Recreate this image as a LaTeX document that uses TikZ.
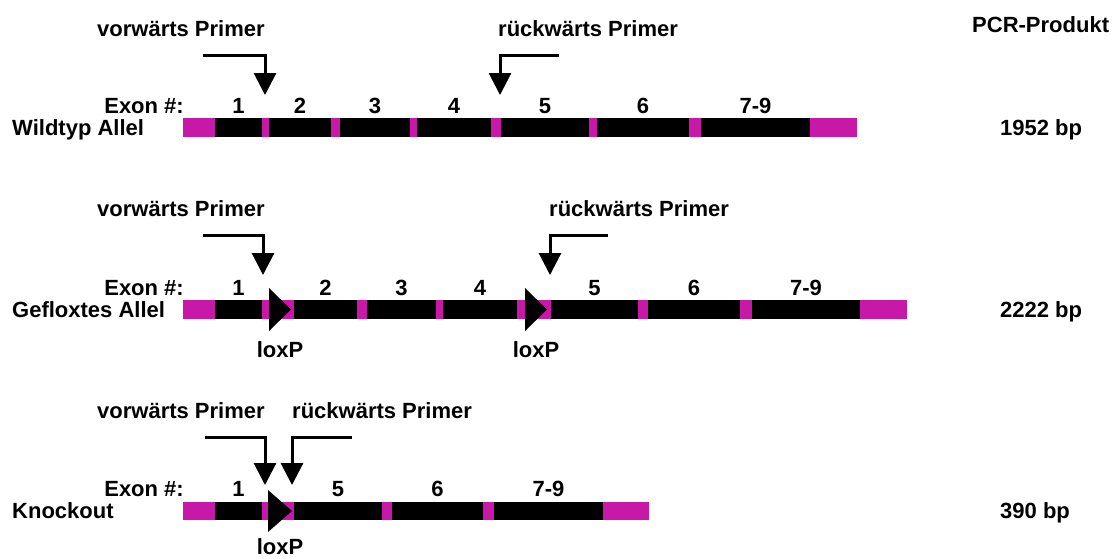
\documentclass[tikz,border=0pt]{standalone}
\usepackage{fontspec}
\setmainfont{Liberation Sans}
\usepackage{tikz}
\usetikzlibrary{arrows.meta, positioning}
\definecolor{exonpink}{RGB}{200,24,168}

\begin{document}
\begin{tikzpicture}[x=1pt, y=-1pt,
    lbl/.style={inner sep=0pt, font=\bfseries\fontsize{22}{26}\selectfont},
    primer/.style={line width=3pt, -{Triangle[width=22pt,length=22pt]}},
    intron/.style={fill=exonpink},
    exon/.style={fill=black}]
        \useasboundingbox (0,0) rectangle (1118,558);
        \node[lbl, anchor=base west] (pcr) at (972,32) {PCR-Produkt};
        % Wildtyp
        \fill[intron] (183,118) rectangle (857,137);
        \foreach \a/\b/\t [count=\i] in {215/262/1,269/331/2,340/410/3,417/491/4,501/589/5,597/689/6,701/810/7-9}{
            \fill[exon] (\a,118) rectangle (\b,137);
            \node[lbl, anchor=base] (wex\i) at ({(\a+\b)/2},113) {\t};
        }
        \node[lbl, anchor=base west] (wt) at (12,135.5) {Wildtyp Allel};
        \node[lbl, anchor=base east] (wtnr) at (184,113) {Exon \#:};
        \node[lbl, anchor=base west] (wtbp) at (1000,135.5) {1952 bp};
        \node[lbl, anchor=base west] (wtfw) at (97,36) {vorwärts Primer};
        \node[lbl, anchor=base west] (wtrv) at (498,36) {rückwärts Primer};
        \coordinate (fw1a) at (203,55);
        \coordinate (fw1b) at (265,95);
        \coordinate (rv1a) at (559,55);
        \coordinate (rv1b) at (500,95);
        \draw[primer] (fw1a) -| (fw1b);
        \draw[primer] (rv1a) -| (rv1b);
        % Gefloxt
        \fill[intron] (183,300) rectangle (907,319);
        \foreach \a/\b/\t [count=\i] in {215/262/1,294/357/2,367/436/3,443/517/4,551/638/5,648/740/6,752/860/7-9}{
            \fill[exon] (\a,300) rectangle (\b,319);
            \node[lbl, anchor=base] (flex\i) at ({(\a+\b)/2},295) {\t};
        }
        \foreach \x [count=\i] in {269,525}{
            \fill[exon] (\x,288) -- (\x+22,309.5) -- (\x,331) -- cycle;
            \node[lbl, anchor=base] (lox\i) at (\x+11,357) {loxP};
        }
        \node[lbl, anchor=base west] (fl) at (12,317.5) {Gefloxtes Allel};
        \node[lbl, anchor=base east] (flnr) at (184,295) {Exon \#:};
        \node[lbl, anchor=base west] (flbp) at (1000,317.5) {2222 bp};
        \node[lbl, anchor=base west] (flfw) at (97,216) {vorwärts Primer};
        \node[lbl, anchor=base west] (flrv) at (549,216) {rückwärts Primer};
        \coordinate (fw2a) at (203,235);
        \coordinate (fw2b) at (263,275);
        \coordinate (rv2a) at (608,235);
        \coordinate (rv2b) at (550,275);
        \draw[primer] (fw2a) -| (fw2b);
        \draw[primer] (rv2a) -| (rv2b);
        % Knockout
        \fill[intron] (183,502) rectangle (649,520);
        \foreach \a/\b/\t [count=\i] in {215/262/1,294/382/5,392/483/6,494/603/7-9}{
            \fill[exon] (\a,502) rectangle (\b,520);
            \node[lbl, anchor=base] (koex\i) at ({(\a+\b)/2},496.5) {\t};
        }
        \fill[exon] (268,490) -- (292,511) -- (268,532) -- cycle;
        \node[lbl, anchor=base] (lox3) at (280,554) {loxP};
        \node[lbl, anchor=base west] (ko) at (12,518.5) {Knockout};
        \node[lbl, anchor=base east] (konr) at (184,496.5) {Exon \#:};
        \node[lbl, anchor=base west] (kobp) at (1000,518.5) {390 bp};
        \node[lbl, anchor=base west] (kofw) at (97,418) {vorwärts Primer};
        \node[lbl, anchor=base west] (korv) at (292,418) {rückwärts Primer};
        \coordinate (fw3a) at (205,437);
        \coordinate (fw3b) at (265,485);
        \coordinate (rv3a) at (352,437);
        \coordinate (rv3b) at (292,485);
        \draw[primer] (fw3a) -| (fw3b);
        \draw[primer] (rv3a) -| (rv3b);
    \end{tikzpicture}
\end{document}
